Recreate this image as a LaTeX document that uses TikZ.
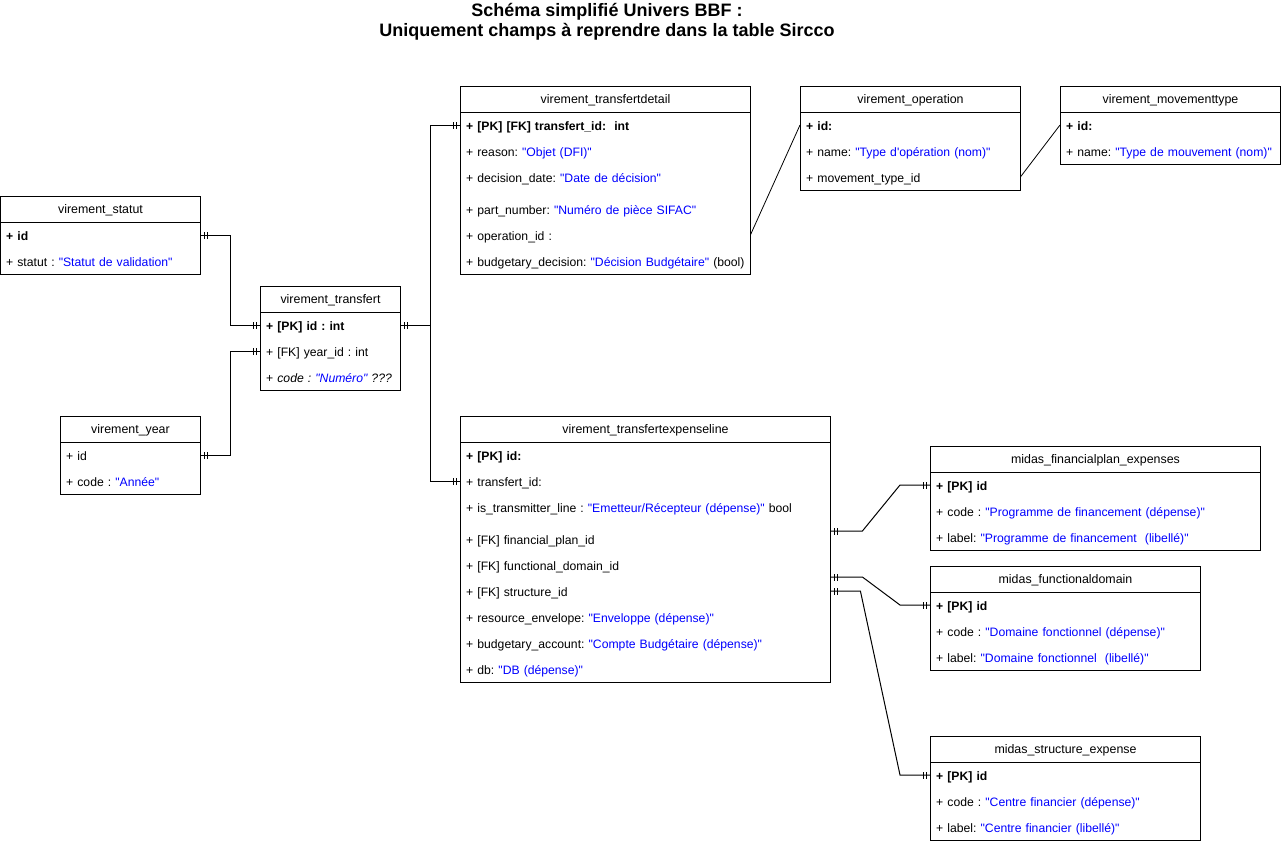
\documentclass[tikz,border=0pt]{standalone}
\usepackage{fontspec}
\setmainfont{Liberation Sans}[Ligatures=TeXOff]
\usetikzlibrary{decorations.markings}
\definecolor{valblue}{RGB}{0,0,255}
\newcommand\bl[1]{\textcolor{valblue}{#1}}
\frenchspacing
\tikzset{
  hdr/.style={draw, line width=1pt, anchor=north west, inner sep=0pt, minimum height=26pt, text height=10pt, text depth=2pt, font=\fontsize{12.4}{14}\selectfont},
  bodybox/.style={draw, line width=1pt, anchor=north west, inner sep=0pt},
  row/.style={anchor=west, inner xsep=6pt, inner ysep=0pt, align=left, text height=11pt, text depth=1pt, font=\fontsize{12.2}{14}\selectfont},
  plainlink/.style={draw, line width=0.8pt},
  tick/.style={draw, line width=0.8pt},
  er/.style={draw, line width=1pt, postaction={decorate}, decoration={markings,
     mark=at position 4pt with {\draw[tick] (0,-3.5pt)--(0,3.5pt);},
     mark=at position 7pt with {\draw[tick] (0,-3.5pt)--(0,3.5pt);},
     mark=at position -4pt with {\draw[tick] (0,-3.5pt)--(0,3.5pt);},
     mark=at position -7pt with {\draw[tick] (0,-3.5pt)--(0,3.5pt);}}}
}
\begin{document}
\begin{tikzpicture}[x=1pt,y=-1pt]
\useasboundingbox (0,0) rectangle (1281,844);

% title
\node[font=\fontsize{18}{20}\selectfont\bfseries, align=center] (title) at (607,22) {Schéma simplifié Univers BBF :\\Uniquement champs à reprendre dans la table Sircco};

% virement_statut
\node[hdr, minimum width=200pt] (statut) at (0,196) {virement\_statut};
\node[bodybox, minimum width=200pt, minimum height=52pt] (statutB) at (0,222) {};
\node[row, text width=188pt] (st1) at (0,235) {\textbf{+ id}};
\node[row, text width=188pt] (st2) at (0,261) {+ statut : \bl{"Statut de validation"}};

% virement_transfert
\node[hdr, minimum width=140pt] (transf) at (260,286) {virement\_transfert};
\node[bodybox, minimum width=140pt, minimum height=78pt] (transfB) at (260,312) {};
\node[row, text width=128pt] (tr1) at (260,325) {\textbf{+ [PK] id : int}};
\node[row, text width=128pt] (tr2) at (260,351) {+ [FK] year\_id : int};
\node[row, text width=128pt] (tr3) at (260,377) {\mbox{+ \textit{code : \bl{"Numéro"} ???}}};

% virement_year
\node[hdr, minimum width=140pt] (year) at (60,416) {virement\_year};
\node[bodybox, minimum width=140pt, minimum height=52pt] (yearB) at (60,442) {};
\node[row, text width=128pt] (yr1) at (60,455) {+ id};
\node[row, text width=128pt] (yr2) at (60,481) {+ code : \bl{"Année"}};

% virement_transfertdetail
\node[hdr, minimum width=290pt] (detail) at (460,86) {virement\_transfertdetail};
\node[bodybox, minimum width=290pt, minimum height=162pt] (detailB) at (460,112) {};
\node[row, text width=278pt] (de1) at (460,125) {\textbf{+ [PK] [FK] transfert\_id:\ \ int}};
\node[row, text width=278pt] (de2) at (460,151) {+ reason: \bl{"Objet (DFI)"}};
\node[row, text width=278pt] (de3) at (460,177) {+ decision\_date: \bl{"Date de décision"}};
\node[row, text width=278pt] (de4) at (460,209) {+ part\_number: \bl{"Numéro de pièce SIFAC"}};
\node[row, text width=278pt] (de5) at (460,235) {+ operation\_id :};
\node[row, text width=278pt] (de6) at (460,261) {\mbox{+ budgetary\_decision: \bl{"Décision Budgétaire"} (bool)}};

% virement_operation
\node[hdr, minimum width=220pt] (oper) at (800,86) {virement\_operation};
\node[bodybox, minimum width=220pt, minimum height=78pt] (operB) at (800,112) {};
\node[row, text width=208pt] (op1) at (800,125) {\textbf{+ id:}};
\node[row, text width=208pt] (op2) at (800,151) {+ name: \bl{"Type d'opération (nom)"}};
\node[row, text width=208pt] (op3) at (800,177) {+ movement\_type\_id};

% virement_movementtype
\node[hdr, minimum width=220pt] (mvt) at (1060,86) {virement\_movementtype};
\node[bodybox, minimum width=220pt, minimum height=52pt] (mvtB) at (1060,112) {};
\node[row, text width=208pt] (mv1) at (1060,125) {\textbf{+ id:}};
\node[row, text width=208pt] (mv2) at (1060,151) {+ name: \bl{"Type de mouvement (nom)"}};

% virement_transfertexpenseline
\node[hdr, minimum width=370pt] (expl) at (460,416) {virement\_transfertexpenseline};
\node[bodybox, minimum width=370pt, minimum height=240pt] (explB) at (460,442) {};
\node[row, text width=358pt] (ex1) at (460,455) {\textbf{+ [PK] id:}};
\node[row, text width=358pt] (ex2) at (460,481) {+ transfert\_id:};
\node[row, text width=358pt] (ex3) at (460,507) {+ is\_transmitter\_line : \bl{"Emetteur/Récepteur (dépense)"} bool};
\node[row, text width=358pt] (ex4) at (460,539) {+ [FK] financial\_plan\_id};
\node[row, text width=358pt] (ex5) at (460,565) {+ [FK] functional\_domain\_id};
\node[row, text width=358pt] (ex6) at (460,591) {+ [FK] structure\_id};
\node[row, text width=358pt] (ex7) at (460,617) {+ resource\_envelope: \bl{"Enveloppe (dépense)"}};
\node[row, text width=358pt] (ex8) at (460,643) {+ budgetary\_account: \bl{"Compte Budgétaire (dépense)"}};
\node[row, text width=358pt] (ex9) at (460,669) {+ db: \bl{"DB (dépense)"}};

% midas_financialplan_expenses
\node[hdr, minimum width=330pt] (finp) at (930,446) {midas\_financialplan\_expenses};
\node[bodybox, minimum width=330pt, minimum height=78pt] (finpB) at (930,472) {};
\node[row, text width=318pt] (fp1) at (930,485) {\textbf{+ [PK] id}};
\node[row, text width=318pt] (fp2) at (930,511) {+ code : \bl{"Programme de financement (dépense)"}};
\node[row, text width=318pt] (fp3) at (930,537) {+ label: \bl{"Programme de financement\ \ (libellé)"}};

% midas_functionaldomain
\node[hdr, minimum width=270pt] (fdom) at (930,566) {midas\_functionaldomain};
\node[bodybox, minimum width=270pt, minimum height=78pt] (fdomB) at (930,592) {};
\node[row, text width=258pt] (fd1) at (930,605) {\textbf{+ [PK] id}};
\node[row, text width=258pt] (fd2) at (930,631) {+ code : \bl{"Domaine fonctionnel (dépense)"}};
\node[row, text width=258pt] (fd3) at (930,657) {+ label: \bl{"Domaine fonctionnel\ \ (libellé)"}};

% midas_structure_expense
\node[hdr, minimum width=270pt] (sexp) at (930,736) {midas\_structure\_expense};
\node[bodybox, minimum width=270pt, minimum height=78pt] (sexpB) at (930,762) {};
\node[row, text width=258pt] (se1) at (930,775) {\textbf{+ [PK] id}};
\node[row, text width=258pt] (se2) at (930,801) {+ code : \bl{"Centre financier (dépense)"}};
\node[row, text width=258pt] (se3) at (930,827) {+ label: \bl{"Centre financier (libellé)"}};

% connectors
\draw[er] (st1.east) -- ++(30,0) |- (tr1.west);
\draw[er] (yr1.east) -- ++(30,0) |- (tr2.west);
\draw[er] (tr1.east) -- ++(30,0) |- (de1.west);
\draw[er] (tr1.east) -- ++(30,0) |- (ex2.west);
\draw[plainlink] (de5.east) -- (op1.west);
\draw[plainlink] (op3.east) -- (mv1.west);
\draw[er] ([yshift=8pt]ex4.east) -- ++(32,0) -- ([xshift=-30pt]fp1.west) -- (fp1.west);
\draw[er] ([yshift=-12pt]ex5.east) -- ++(32,0) -- ([xshift=-30pt]fd1.west) -- (fd1.west);
\draw[er] (ex6.east) -- ++(30,0) -- ([xshift=-30pt]se1.west) -- (se1.west);
\end{tikzpicture}
\end{document}
